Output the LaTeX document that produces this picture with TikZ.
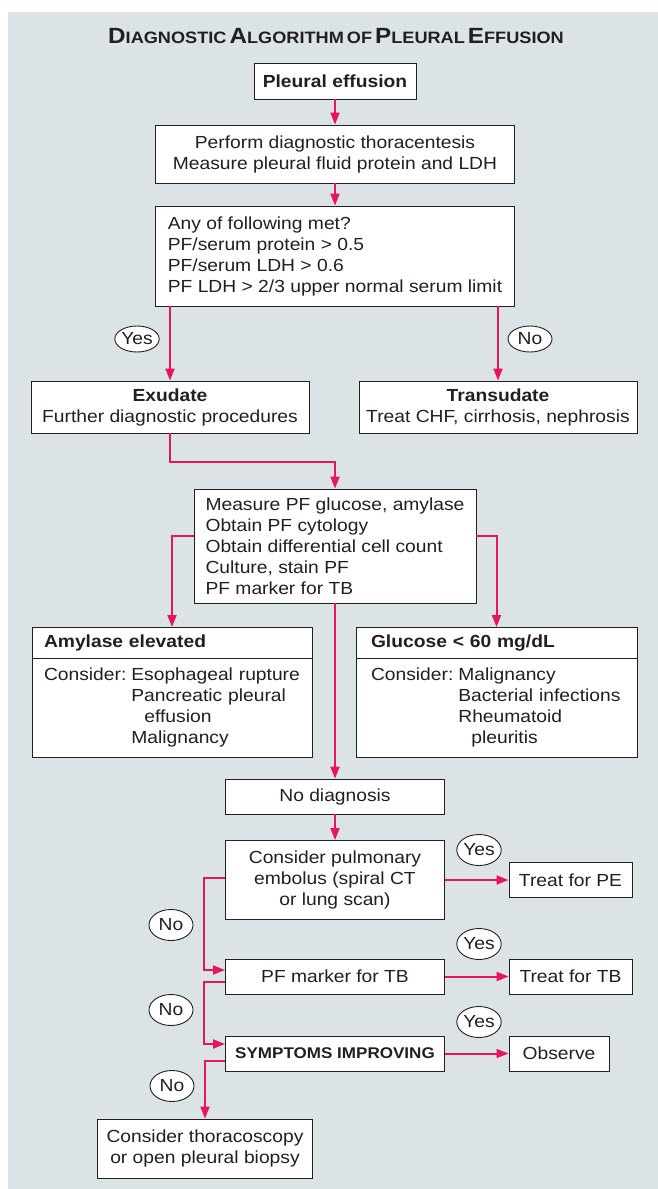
\documentclass[tikz,border=0pt]{standalone}
\usepackage{fontspec}
\setmainfont{Liberation Sans}[FakeStretch=1.1]
\usetikzlibrary{arrows.meta,shapes.geometric,shapes.multipart}

\definecolor{panel}{RGB}{219,227,231}
\definecolor{flow}{RGB}{232,22,88}
\definecolor{ink}{RGB}{35,31,32}

\newcommand*{\bodyfont}{\fontsize{17.5}{21}\selectfont}
\newcommand*{\tcap}[2]{{\fontsize{22}{22}\selectfont #1}{\fontsize{16.5}{22}\selectfont #2}}

\begin{document}
\begin{tikzpicture}
[
	x=1pt, y=-1pt,
	box/.style={draw=ink, line width=0.9pt, fill=white, inner sep=0pt, text=ink, font=\bodyfont, align=center},
	splitbox/.style={rectangle split, rectangle split parts=2, draw=ink, line width=0.9pt, fill=white, text=ink, font=\bodyfont, align=left, text width=256pt, inner xsep=12pt, inner ysep=7pt, anchor=north},
	answer/.style={ellipse, draw=ink, line width=0.9pt, fill=white, inner sep=0pt, minimum width=44pt, minimum height=31pt, text=ink, font=\bodyfont},
	arr/.style={-{Triangle[length=12pt,width=9pt]}, flow, line width=2pt},
]

	% panel
	\useasboundingbox (0,0) rectangle (658,1189);
	\fill[panel] (8,12) rectangle (658,1189);
	\node[font=\bfseries, text=ink] (title) at (336,36) {\tcap{D}{IAGNOSTIC} \tcap{A}{LGORITHM} {\fontsize{16.5}{22}\selectfont OF} \tcap{P}{LEURAL} \tcap{E}{FFUSION}};

	% upper part
	\node[box, minimum width=162pt, minimum height=36pt, font=\bodyfont\bfseries] (start) at (335,81) {Pleural effusion};
	\node[box, minimum width=359pt, minimum height=58pt] (thora) at (335,154) {Perform diagnostic thoracentesis\\Measure pleural fluid protein and LDH};
	\node[box, minimum width=359pt, minimum height=100pt, align=left] (crit) at (335,256) {Any of following met?\\PF/serum protein > 0.5\\PF/serum LDH > 0.6\\PF LDH > 2/3 upper normal serum limit};
	\node[box, minimum width=278pt, minimum height=52pt] (exud) at (170,407) {\textbf{Exudate}\\Further diagnostic procedures};
	\node[box, minimum width=278pt, minimum height=52pt] (trans) at (498,407) {\textbf{Transudate}\\Treat CHF, cirrhosis, nephrosis};
	\node[answer, minimum height=26pt] (yes1) at (137,339) {Yes};
	\node[answer, minimum height=26pt] (no1) at (530,339) {No};

	% tests
	\coordinate (joint) at (335,462);
	\node[box, minimum width=282pt, minimum height=114pt, align=left] (tests) at (335,546) {Measure PF glucose, amylase\\Obtain PF cytology\\Obtain differential cell count\\Culture, stain PF\\PF marker for TB};
	\node[splitbox] (amyl) at (172,627) {\textbf{Amylase elevated}\nodepart{two}\begin{tabular}{@{}l@{\hspace{5pt}}l@{}}Consider: & Esophageal rupture\\ & Pancreatic pleural\\ & \hspace{13pt}effusion\\ & Malignancy\end{tabular}};
	\node[splitbox, inner xsep=15pt, text width=251pt] (gluc) at (496.5,627) {\textbf{Glucose < 60 mg/dL}\nodepart{two}\begin{tabular}{@{}l@{\hspace{5pt}}l@{}}Consider: & Malignancy\\ & Bacterial infections\\ & Rheumatoid\\ & \hspace{13pt}pleuritis\end{tabular}};

	% lower part
	\node[box, minimum width=219pt, minimum height=35pt] (nodx) at (335,796.5) {No diagnosis};
	\node[box, minimum width=219pt, minimum height=79pt] (pe) at (335,880) {Consider pulmonary\\embolus (spiral CT\\or lung scan)};
	\node[box, minimum width=123pt, minimum height=35pt] (tpe) at (570.5,880) {Treat for PE};
	\node[box, minimum width=219pt, minimum height=35pt] (tb) at (335,976.5) {PF marker for TB};
	\node[box, minimum width=123pt, minimum height=35pt] (ttb) at (570.5,976.5) {Treat for TB};
	\node[box, minimum width=219pt, minimum height=35pt, font=\fontsize{15.5}{19}\selectfont\bfseries] (sym) at (335,1053.5) {SYMPTOMS IMPROVING};
	\node[box, minimum width=100pt, minimum height=35pt] (obs) at (559,1053.5) {Observe};
	\node[box, minimum width=215pt, minimum height=59pt] (thor) at (205,1148.5) {Consider thoracoscopy\\or open pleural biopsy};
	\node[answer] (yes2) at (479,850) {Yes};
	\node[answer] (yes3) at (479,944) {Yes};
	\node[answer] (yes4) at (479,1022) {Yes};
	\node[answer] (no2) at (171,925) {No};
	\node[answer] (no3) at (171,1010) {No};
	\node[answer] (no4) at (172,1086) {No};

	% connectors
	\draw[arr] (start) -- (thora);
	\draw[arr] (thora) -- (crit);
	\draw[arr] (crit.south -| exud.north) -- (exud.north);
	\draw[arr] (crit.south -| trans.north) -- (trans.north);
	\draw[arr] (exud.south) |- (joint) -- (tests.north);
	\draw[arr] ([yshift=10pt]tests.west) -| (amyl.north);
	\draw[arr] ([yshift=10pt]tests.east) -| (gluc.north);
	\draw[arr] (tests) -- (nodx);
	\draw[arr] (nodx) -- (pe);
	\draw[arr] (pe) -- (tpe);
	\draw[arr] ([yshift=2pt]pe.west) -- ++(-21,0) |- ([yshift=6.5pt]tb.west);
	\draw[arr] (tb) -- (ttb);
	\draw[arr] ([yshift=-5.5pt]tb.west) -- ++(-21,0) |- ([yshift=9.5pt]sym.west);
	\draw[arr] (sym) -- (obs);
	\draw[arr] ([yshift=-7.5pt]sym.west) -| (thor.north);

\end{tikzpicture}
\end{document}
